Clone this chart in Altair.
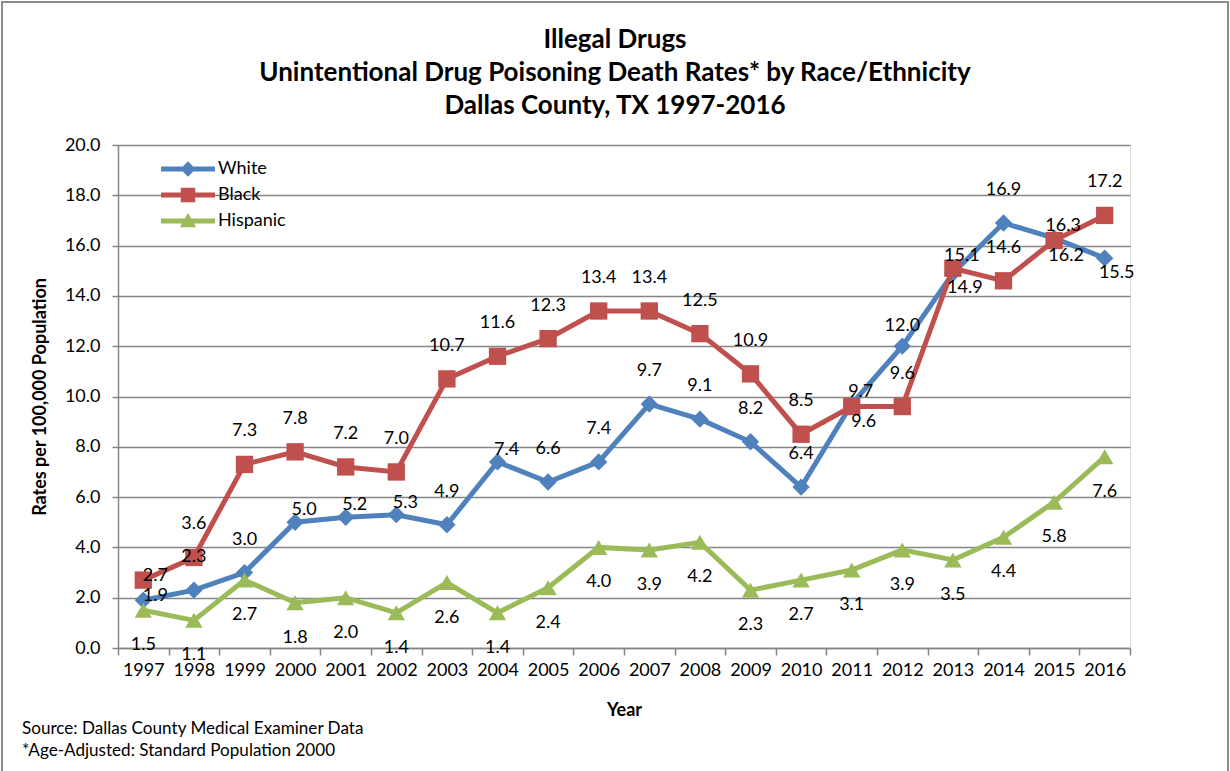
import altair as alt
import pandas as pd

# ---------------- data ----------------
years = list(range(1997, 2017))
white = [1.9, 2.3, 3.0, 5.0, 5.2, 5.3, 4.9, 7.4, 6.6, 7.4, 9.7, 9.1, 8.2, 6.4, 9.7, 12.0, 14.9, 16.9, 16.3, 15.5]
black = [2.7, 3.6, 7.3, 7.8, 7.2, 7.0, 10.7, 11.6, 12.3, 13.4, 13.4, 12.5, 10.9, 8.5, 9.6, 9.6, 15.1, 14.6, 16.2, 17.2]
hispanic = [1.5, 1.1, 2.7, 1.8, 2.0, 1.4, 2.6, 1.4, 2.4, 4.0, 3.9, 4.2, 2.3, 2.7, 3.1, 3.9, 3.5, 4.4, 5.8, 7.6]
series_names = ["White", "Black", "Hispanic"]
title_lines = ["Illegal Drugs", "Unintentional Drug Poisoning Death Rates* by Race/Ethnicity",
               "Dallas County, TX 1997-2016"]
footer_lines = ["Source: Dallas County Medical Examiner Data", "*Age-Adjusted: Standard Population 2000"]

# ---------------- styling ----------------
series_colors = ["#4F81BD", "#C0504D", "#9BBB59"]
series_shapes = ["diamond", "square", "triangle-up"]
series_sizes = [300, 300, 300]
legend_paths = [
    "M-3,-0.28L3,-0.28L3,0.28L-3,0.28Z M0,-0.85L0.85,0L0,0.85L-0.85,0Z",
    "M-3,-0.28L3,-0.28L3,0.28L-3,0.28Z M-0.8,-0.8L0.8,-0.8L0.8,0.8L-0.8,0.8Z",
    "M-3,-0.28L3,-0.28L3,0.28L-3,0.28Z M0,-0.9L0.9,0.7L-0.9,0.7Z",
]
# data-label placement codes (Excel label positions)
white_pos = ["R", "T", "T", "TR", "TR", "TR", "T", "TR", "T", "T", "T", "T", "T", "T", "TR", "T2", "BR", "T", "TR", "BR"]
black_pos = ["R", "T", "T", "T", "T", "T", "T", "T", "T", "T", "T", "T", "T", "T", "BR", "T", "TR", "T", "BR", "T"]
hisp_pos = ["B"] * 20
offsets = {"T": (0, -33), "B": (0, 35), "TR": (9, -12), "R": (12, -4), "BR": (12, 15), "T2": (0, -20)}

rows = []
for name, vals, pos in zip(series_names, [white, black, hispanic], [white_pos, black_pos, hisp_pos]):
    for yr, v, p in zip(years, vals, pos):
        rows.append({"year": yr, "value": v, "series": name, "pos": p})
df = pd.DataFrame(rows)

W, H = 1012, 503
FONT = "Lato"
GRID = "#868686"

x_enc = alt.X(
    "year:O",
    bandPosition=0.5,
    scale=alt.Scale(type="band", paddingInner=0, paddingOuter=0),
    axis=alt.Axis(
        title="Year", tickBand="extent", labelAngle=0, labelFontSize=18, labelFont=FONT,
        labelColor="black", labelPadding=6, tickSize=7, tickColor=GRID, tickWidth=1.5,
        domainColor=GRID, domainWidth=1.5, titleFontSize=18, titleFont=FONT,
        titleFontWeight="bold", titleColor="black", titlePadding=22, grid=False,
    ),
)
y_enc = alt.Y(
    "value:Q",
    scale=alt.Scale(domain=[0, 20], nice=False, zero=True),
    axis=alt.Axis(
        values=list(range(0, 21, 2)), format=".1f", title="Rates per 100,000 Population",
        labelFontSize=18, labelFont=FONT, labelColor="black", labelPadding=12,
        tickSize=6, tickColor=GRID, tickWidth=1.5, domainColor=GRID, domainWidth=1.5,
        grid=True, gridColor=GRID, gridWidth=1.5,
        titleFontSize=18, titleFont=FONT, titleFontWeight="bold", titleColor="black", titlePadding=15,
    ),
)

base = alt.Chart(df)
layers = []
for name, col, shp, sz in zip(series_names, series_colors, series_shapes, series_sizes):
    sub = base.transform_filter(alt.datum.series == name)
    layers.append(sub.mark_line(strokeWidth=5, color=col).encode(x=x_enc, y=y_enc))
    layers.append(
        sub.mark_point(shape=shp, filled=True, size=sz, opacity=1, color=col).encode(x=x_enc, y=y_enc)
    )

for code, (dx, dy) in offsets.items():
    layers.append(
        base.transform_filter(alt.datum.pos == code)
        .mark_text(font=FONT, fontSize=18, color="black", dx=dx, dy=dy, align="center", baseline="middle")
        .encode(x=x_enc, y=y_enc, text=alt.Text("value:Q", format=".1f"))
    )

legend_props = dict(
    orient="none", legendX=61, legendY=15, title=None, labelFont=FONT, labelFontSize=18,
    labelColor="black", symbolStrokeWidth=0, symbolSize=324, labelOffset=21, rowPadding=8,
    padding=0, symbolOpacity=1,
)
legend_layer = (
    base.transform_filter("datum.value < -100")
    .mark_point(filled=True, size=324, opacity=1)
    .encode(
        x=x_enc, y=y_enc,
        color=alt.Color("series:N", scale=alt.Scale(domain=series_names, range=series_colors),
                        legend=alt.Legend(**legend_props)),
        shape=alt.Shape("series:N", scale=alt.Scale(domain=series_names, range=legend_paths),
                        legend=alt.Legend(**legend_props)),
    )
)
layers.append(legend_layer)

title = alt.Chart(alt.Data(values=[{}])).mark_text(
    align="center", baseline="middle", font=FONT, fontSize=26, fontWeight="bold", color="black",
    lineHeight=33, text=title_lines,
).encode(x=alt.value(615 - 118), y=alt.value(40 - 145))
layers.append(title)

footer = alt.Chart(alt.Data(values=[{}])).mark_text(
    align="left", baseline="middle", font=FONT, fontSize=17.1, color="black", lineHeight=22,
    text=footer_lines,
).encode(x=alt.value(22 - 118), y=alt.value(729 - 145))
layers.append(footer)

frame = alt.Chart(alt.Data(values=[{}])).mark_rect(
    filled=False, stroke="#8c8c8c", strokeWidth=2
).encode(x=alt.value(-116), x2=alt.value(1110), y=alt.value(-143), y2=alt.value(640))
layers.append(frame)

chart = alt.layer(*layers).properties(
    width=W,
    height=H,
    padding={"left": 118, "top": 145, "right": 100, "bottom": 123},
    autosize=alt.AutoSizeParams(type="none"),
).configure_view(strokeWidth=0).configure(background="white")

chart.save("out.html", embed_options={"renderer": "svg", "actions": False})
